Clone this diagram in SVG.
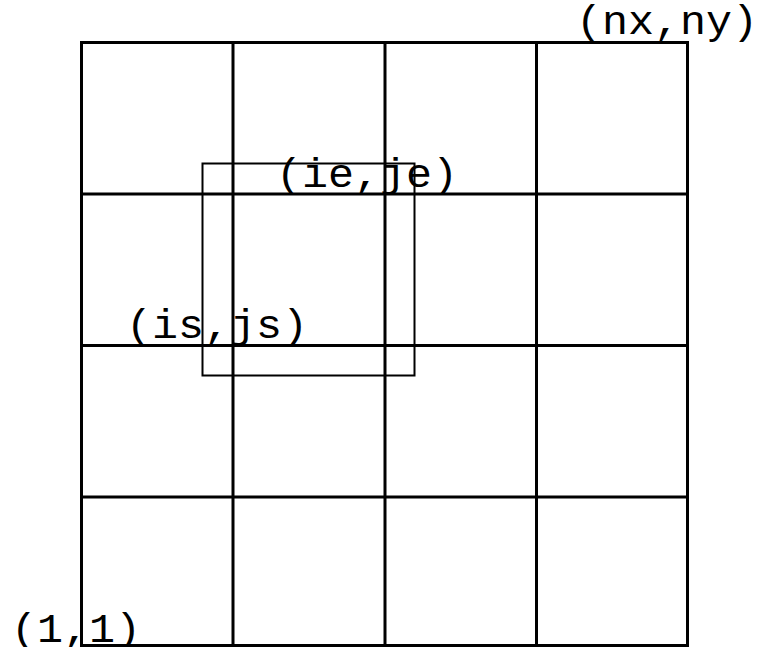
<svg xmlns="http://www.w3.org/2000/svg" width="757" height="647" viewBox="0 0 757 647">
<style>
.g{stroke:#000;stroke-width:3;fill:none;stroke-linecap:square}
.r{stroke:#000;stroke-width:2;fill:none}
.t{font-family:"Liberation Mono","Courier New",monospace;font-size:40px;fill:#000}
</style>
<rect width="757" height="647" fill="#fff"/>
<g id="grid" class="g">
<line x1="81.5" y1="42.5" x2="687.5" y2="42.5"/>
<line x1="81.5" y1="194" x2="687.5" y2="194"/>
<line x1="81.5" y1="345.5" x2="687.5" y2="345.5"/>
<line x1="81.5" y1="497" x2="687.5" y2="497"/>
<line x1="81.5" y1="645.5" x2="687.5" y2="645.5"/>
<line x1="81.5" y1="42.5" x2="81.5" y2="645.5"/>
<line x1="233" y1="42.5" x2="233" y2="645.5"/>
<line x1="385" y1="42.5" x2="385" y2="645.5"/>
<line x1="536.5" y1="42.5" x2="536.5" y2="645.5"/>
<line x1="687.5" y1="42.5" x2="687.5" y2="645.5"/>
</g>
<g id="subdomain">
<rect class="r" x="202.5" y="163.5" width="212" height="212"/>
</g>
<g id="labels">
<text class="t" x="576" y="34" textLength="182" lengthAdjust="spacingAndGlyphs">(nx,ny)</text>
<text class="t" x="276" y="187" textLength="182" lengthAdjust="spacingAndGlyphs">(ie,je)</text>
<text class="t" x="126" y="338" textLength="182" lengthAdjust="spacingAndGlyphs">(is,js)</text>
<text class="t" x="11" y="642" textLength="130" lengthAdjust="spacingAndGlyphs">(1,1)</text>
</g>
</svg>
